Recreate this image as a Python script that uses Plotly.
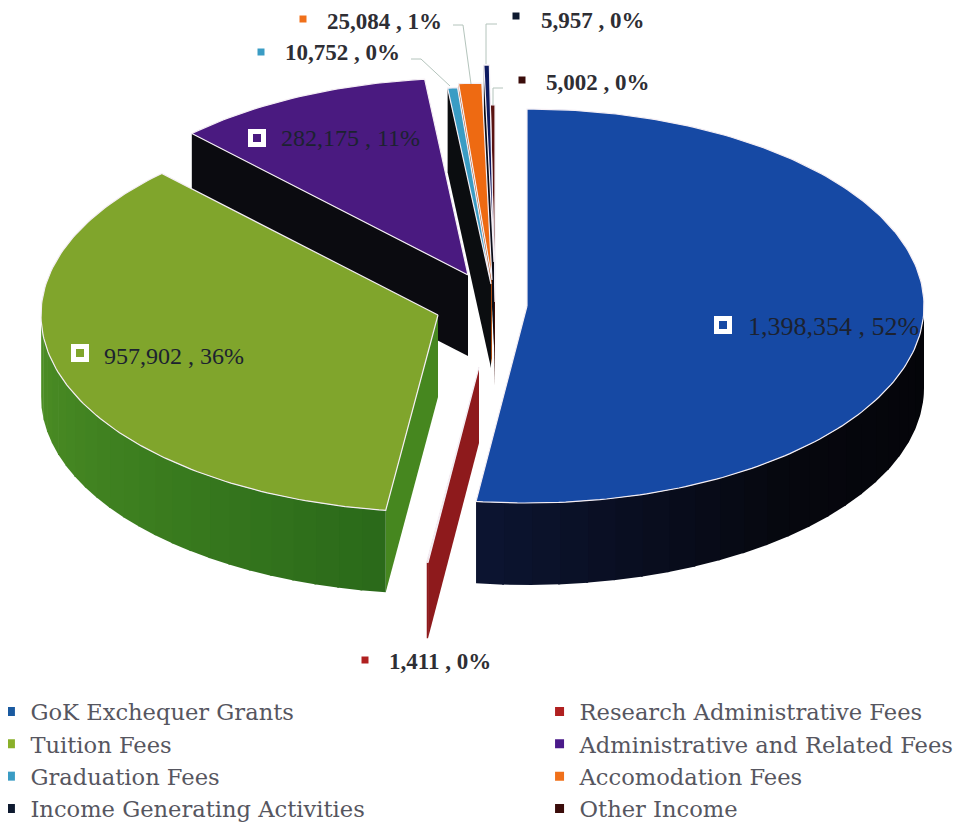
import math
import plotly.graph_objects as go

# ---- data ----
categories = ["GoK Exchequer Grants", "Research Administrative Fees", "Tuition Fees",
              "Administrative and Related Fees", "Graduation Fees", "Accomodation Fees",
              "Income Generating Activities", "Other Income"]
values = [1398354, 1411, 957902, 282175, 10752, 25084, 5957, 5002]

# ---- styles / layout ----
top_colors = ["#1649a4", "#8e1a1c", "#80a52c", "#4a1a80", "#3a9cc4", "#ee6a12", "#0e1a60", "#5a1210"]
wall_colors = ["#06070f", "#8e1a1c", "#46871f", "#0b0b10", "#0b0d10", "#a84a10", "#0b0d18", "#3a0c0a"]
wall_stops = {0: ["#040408", "#06070e", "#0c1430"], 2: ["#2b6a1a", "#3c7e1f", "#4d8e25"]}
legend_colors = ["#1a5aa0", "#b02020", "#8ab02a", "#4a1a8a", "#3a9cc4", "#f0701a", "#0e1a30", "#3a0c0a"]
apex_x = [527, 479, 438, 468, 491, 492, 494, 495]
apex_y = [306, 367, 315, 275, 284, 280, 262, 302]
depths = [82, 76, 82, 81, 84, 84, 84, 84]
RX, RY = 397, 197
PAGE_INSET = 8  # the page body's own margin
draw_order = [0, 7, 6, 5, 4, 3, 2, 1]

label_swatch_x = [723, 365, 80, 257, 261, 303, 516, 522]
label_swatch_y = [325, 660, 353, 138, 52, 19, 16, 80]
label_text_x = [746, 387, 102, 279, 283, 325, 539, 544]
label_text_y = [326, 661, 356, 138, 52, 21, 20, 82]
label_size = [26, 23, 24, 24, 23, 23, 23, 23]
label_bold = [False, True, False, False, True, True, True, True]
big_label = [True, False, True, True, False, False, False, False]
legend_group = ["legend", "legend2"] * 4

total = sum(values)
angles = [0.0]
for v in values:
    angles.append(angles[-1] + 360.0 * v / total)


def pt(i, deg):
    a = math.radians(deg)
    return apex_x[i] + RX * math.sin(a), apex_y[i] - RY * math.cos(a)


def arc(i, a0, a1):
    n = max(2, int(abs(a1 - a0) / 1.0) + 2)
    return [pt(i, a0 + (a1 - a0) * k / (n - 1)) for k in range(n)]


def poly(fig, pts, color, line="rgba(255,255,255,0)", w=0):
    xs = [p[0] for p in pts] + [pts[0][0]]
    ys = [p[1] for p in pts] + [pts[0][1]]
    fig.add_trace(go.Scatter(x=xs, y=ys, mode="lines", fill="toself", fillcolor=color,
                             line=dict(color=line, width=w), showlegend=False, hoverinfo="skip"))


def lerp_hex(c0, c1, t):
    a = [int(c0[k:k + 2], 16) for k in (1, 3, 5)]
    b = [int(c1[k:k + 2], 16) for k in (1, 3, 5)]
    return "#%02x%02x%02x" % tuple(round(a[k] + (b[k] - a[k]) * t) for k in range(3))


fig = go.Figure()

for i in draw_order:
    a0, a1 = angles[i], angles[i + 1]
    d = depths[i]
    # start wall
    o = pt(i, a0)
    if 0 < a0 < 360:
        poly(fig, [(apex_x[i], apex_y[i]), o, (o[0], o[1] + d), (apex_x[i], apex_y[i] + d)], wall_colors[i])
    # outer wall
    lo, hi = max(a0, 90), min(a1, 270)
    if lo < hi:
        if i in wall_stops:
            strips = 24
            stops = wall_stops[i]
            for s in range(strips):
                s0 = lo + (hi - lo) * s / strips
                s1 = lo + (hi - lo) * (s + 1) / strips + 0.3
                t = s / (strips - 1) * 2
                col = lerp_hex(stops[0], stops[1], t) if t <= 1 else lerp_hex(stops[1], stops[2], t - 1)
                ar = arc(i, s0, min(s1, hi))
                poly(fig, ar + [(x, y + d) for x, y in reversed(ar)], col)
        else:
            ar = arc(i, lo, hi)
            poly(fig, ar + [(x, y + d) for x, y in reversed(ar)], wall_colors[i])
    # top face
    poly(fig, [(apex_x[i], apex_y[i])] + arc(i, a0, a1), top_colors[i], "#f4eef4", 1.2)

# leader lines
leaders_x = [[411, 421, 450], [453, 463, 471], [497, 486, 486], [503, 493, 493]]
leaders_y = [[59, 59, 86], [25, 25, 84], [24, 24, 64], [88, 88, 105]]
for lx, ly in zip(leaders_x, leaders_y):
    fig.add_trace(go.Scatter(x=lx, y=ly, mode="lines", line=dict(color="#b4c4bc", width=1),
                             showlegend=False, hoverinfo="skip"))

# data-label swatches and text
annotations = []
for i, v in enumerate(values):
    pct = round(100 * v / total)
    txt = f"{v:,} , {pct}%"
    if big_label[i]:
        marker = dict(symbol="square", size=13, color=top_colors[i], line=dict(color="white", width=5))
    else:
        marker = dict(symbol="square", size=7, color=legend_colors[i], line=dict(width=0))
    fig.add_trace(go.Scatter(x=[label_swatch_x[i]], y=[label_swatch_y[i]], mode="markers", marker=marker,
                             showlegend=False, hoverinfo="skip"))
    annotations.append(dict(x=label_text_x[i], y=label_text_y[i], text=f"<b>{txt}</b>" if label_bold[i] else txt,
                            xanchor="left", yanchor="middle", showarrow=False, xref="x", yref="y",
                            font=dict(family="Liberation Serif", size=label_size[i],
                                      color="#2e2e34" if label_bold[i] else "#1c2230")))

# legend entries
for i, name in enumerate(categories):
    fig.add_trace(go.Scatter(x=[None], y=[None], mode="markers", name=name, legend=legend_group[i],
                             marker=dict(symbol="square", size=9, color=legend_colors[i])))

legend_font = dict(family="DejaVu Serif", size=22.6, color="#565660")
common = dict(orientation="v", xanchor="left", yanchor="top", itemclick=False, itemdoubleclick=False,
              font=legend_font, bgcolor="rgba(0,0,0,0)", traceorder="normal")
fig.update_layout(
    width=963 - PAGE_INSET, height=825 - PAGE_INSET, autosize=False,
    margin=dict(l=0, r=0, t=0, b=0, autoexpand=False),
    paper_bgcolor="white", plot_bgcolor="white",
    xaxis=dict(range=[PAGE_INSET, 963], visible=False, fixedrange=True),
    yaxis=dict(range=[825, PAGE_INSET], visible=False, fixedrange=True),
    annotations=annotations,
    showlegend=True,
    legend=dict(x=-0.0184, y=0.165, **common),
    legend2=dict(x=0.5566, y=0.165, **common),
)
fig.write_html("out.html")
